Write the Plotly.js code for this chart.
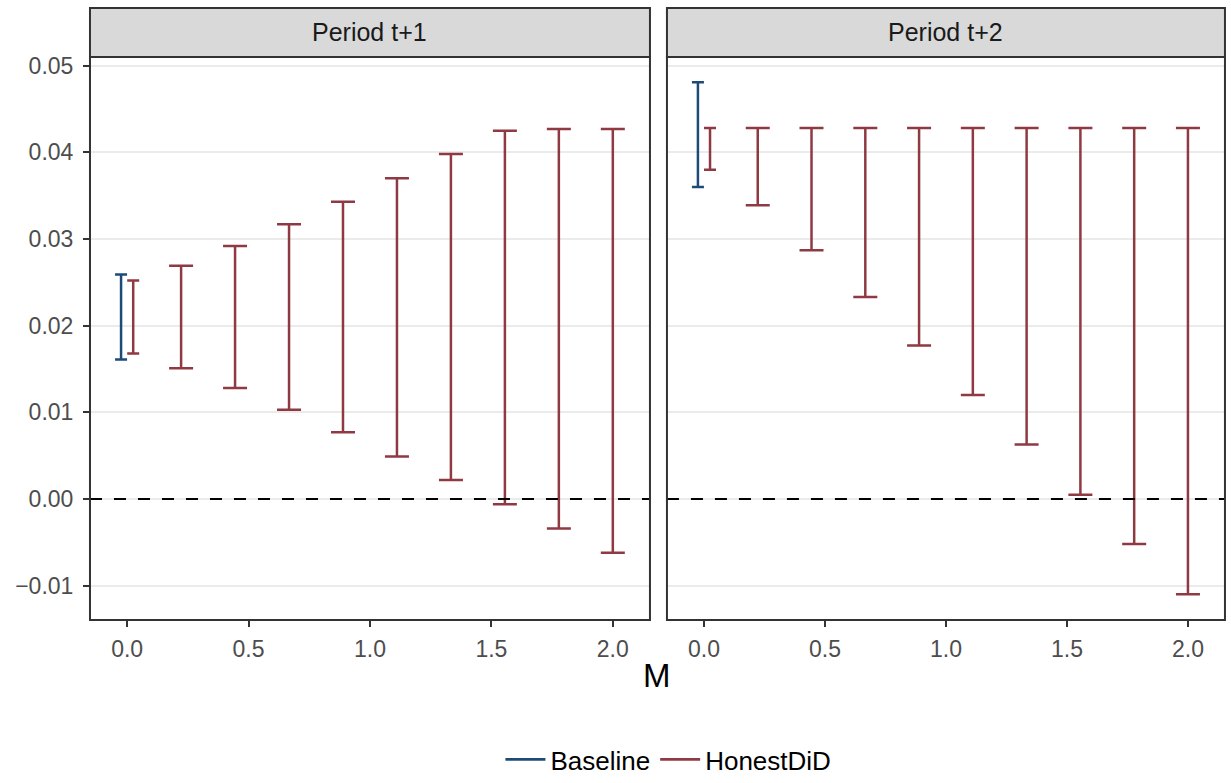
<!DOCTYPE html>
<html>
<head>
<meta charset="utf-8">
<script src="https://cdn.plot.ly/plotly-3.0.1.min.js"></script>
<style>
  body { margin: 0; background: #fff; }
  #chart { width: 1231px; height: 783px; }
</style>
</head>
<body>
<div id="chart"></div>
<script>
// sensitivity values of M (same grid in both periods)
var mValues = [0, 0.2222, 0.4444, 0.6667, 0.8889, 1.1111, 1.3333, 1.5556, 1.7778, 2.0];

// Period t+1
var honestLb1 = [0.0168, 0.0151, 0.0128, 0.0103, 0.0077, 0.0049, 0.0022, -0.0006, -0.0034, -0.0062];
var honestUb1 = [0.0252, 0.0269, 0.0292, 0.0317, 0.0343, 0.0370, 0.0398, 0.0425, 0.0427, 0.0427];
var baseLb1 = [0.0161];
var baseUb1 = [0.0259];

// Period t+2
var honestLb2 = [0.0380, 0.0339, 0.0287, 0.0233, 0.0177, 0.0120, 0.0063, 0.0005, -0.0052, -0.0110];
var honestUb2 = [0.0428, 0.0428, 0.0428, 0.0428, 0.0428, 0.0428, 0.0428, 0.0428, 0.0428, 0.0428];
var baseLb2 = [0.0360];
var baseUb2 = [0.0481];

var periodLabels = ['Period t+1', 'Period t+2'];
var seriesNames = ['Baseline', 'HonestDiD'];

var blue = '#1c4b78';
var red = '#8f3a43';
var dodge = 0.025;

function bars(xs, lb, ub, color, capw, xa, ya) {
  return {
    x: xs, y: lb, xaxis: xa, yaxis: ya,
    type: 'scatter', mode: 'markers',
    marker: {size: 1, color: 'rgba(0,0,0,0)'},
    error_y: {
      type: 'data', symmetric: false,
      array: ub.map(function (u, i) { return u - lb[i]; }),
      arrayminus: lb.map(function () { return 0; }),
      color: color, thickness: 2.5, width: capw
    },
    showlegend: false, hoverinfo: 'skip'
  };
}

var traces = [];
var panels = [
  {lb: honestLb1, ub: honestUb1, blb: baseLb1, bub: baseUb1, xa: 'x', ya: 'y'},
  {lb: honestLb2, ub: honestUb2, blb: baseLb2, bub: baseUb2, xa: 'x2', ya: 'y2'}
];
panels.forEach(function (p) {
  traces.push(bars([mValues[0] - dodge], p.blb, p.bub, blue, 6, p.xa, p.ya));
  traces.push(bars([mValues[0] + dodge], p.lb.slice(0, 1), p.ub.slice(0, 1), red, 6, p.xa, p.ya));
  traces.push(bars(mValues.slice(1), p.lb.slice(1), p.ub.slice(1), red, 12, p.xa, p.ya));
});

// legend keys
traces.push({x: [null], y: [null], type: 'scatter', mode: 'lines', name: seriesNames[0],
  line: {color: blue, width: 2.8}, hoverinfo: 'skip'});
traces.push({x: [null], y: [null], type: 'scatter', mode: 'lines', name: seriesNames[1],
  line: {color: red, width: 2.8}, hoverinfo: 'skip'});

var font = 'Liberation Sans, Arial, Helvetica, sans-serif';

var xCommon = {
  range: [-0.153, 2.153], tickvals: [0, 0.5, 1, 1.5, 2], tickformat: '.1f',
  showgrid: false, zeroline: false, ticks: 'outside', ticklen: 6, tickwidth: 2,
  tickcolor: '#333333', tickfont: {family: font, size: 23, color: '#4d4d4d'},
  ticklabelstandoff: 2, showline: false, fixedrange: true
};
var yCommon = {
  range: [-0.01396, 0.0510], dtick: 0.01, tick0: 0, tickformat: '.2f',
  showgrid: true, gridcolor: '#ebebeb', gridwidth: 2, zeroline: false,
  showline: false, fixedrange: true
};

var layout = {
  width: 1231, height: 783,
  margin: {l: 0, r: 0, t: 0, b: 0},
  paper_bgcolor: '#ffffff', plot_bgcolor: '#ffffff',
  font: {family: font, color: '#1a1a1a'},
  xaxis: Object.assign({}, xCommon, {domain: [0.0731, 0.5280], anchor: 'y'}),
  xaxis2: Object.assign({}, xCommon, {domain: [0.5418, 0.9951], anchor: 'y2'}),
  yaxis: Object.assign({}, yCommon, {domain: [0.2082, 0.9272], anchor: 'x',
    ticks: 'outside', ticklen: 6, tickwidth: 2, tickcolor: '#333333', ticklabelstandoff: 5,
    tickfont: {family: font, size: 23, color: '#4d4d4d'}}),
  yaxis2: Object.assign({}, yCommon, {domain: [0.2082, 0.9272], anchor: 'x2',
    matches: 'y', showticklabels: false, ticks: ''}),
  showlegend: true,
  legend: {
    orientation: 'h', x: 0.543, xanchor: 'center', y: 0, yanchor: 'bottom',
    font: {family: font, size: 26, color: '#000000'}, itemwidth: 40,
    bgcolor: 'rgba(0,0,0,0)'
  },
  shapes: [],
  annotations: [
    {text: 'M', xref: 'paper', yref: 'paper', x: 0.534, y: 0.137,
     xanchor: 'center', yanchor: 'middle', showarrow: false,
     font: {family: font, size: 33, color: '#000000'}}
  ]
};

['x', 'x2'].forEach(function (xa, i) {
  var ya = i === 0 ? 'y' : 'y2';
  // zero reference line
  layout.shapes.push({type: 'line', xref: xa + ' domain', yref: ya, x0: 0, x1: 1, y0: 0, y1: 0,
    line: {color: '#000000', width: 2.2, dash: '12px,12px'}});
  // panel border
  layout.shapes.push({type: 'rect', xref: xa + ' domain', yref: ya + ' domain', x0: 0, x1: 1, y0: 0, y1: 1,
    line: {color: '#333333', width: 2}, fillcolor: 'rgba(0,0,0,0)'});
  // facet strip
  layout.shapes.push({type: 'rect', xref: xa + ' domain', yref: 'paper', x0: 0, x1: 1, y0: 0.9272, y1: 0.9898,
    line: {color: '#333333', width: 2}, fillcolor: '#d9d9d9', layer: 'above'});
  layout.annotations.push({text: periodLabels[i], xref: xa + ' domain', yref: 'paper', x: 0.5, y: 0.9585,
    xanchor: 'center', yanchor: 'middle', showarrow: false,
    font: {family: font, size: 25, color: '#1a1a1a'}});
});

Plotly.newPlot('chart', traces, layout, {displayModeBar: false, staticPlot: true});
</script>
</body>
</html>
